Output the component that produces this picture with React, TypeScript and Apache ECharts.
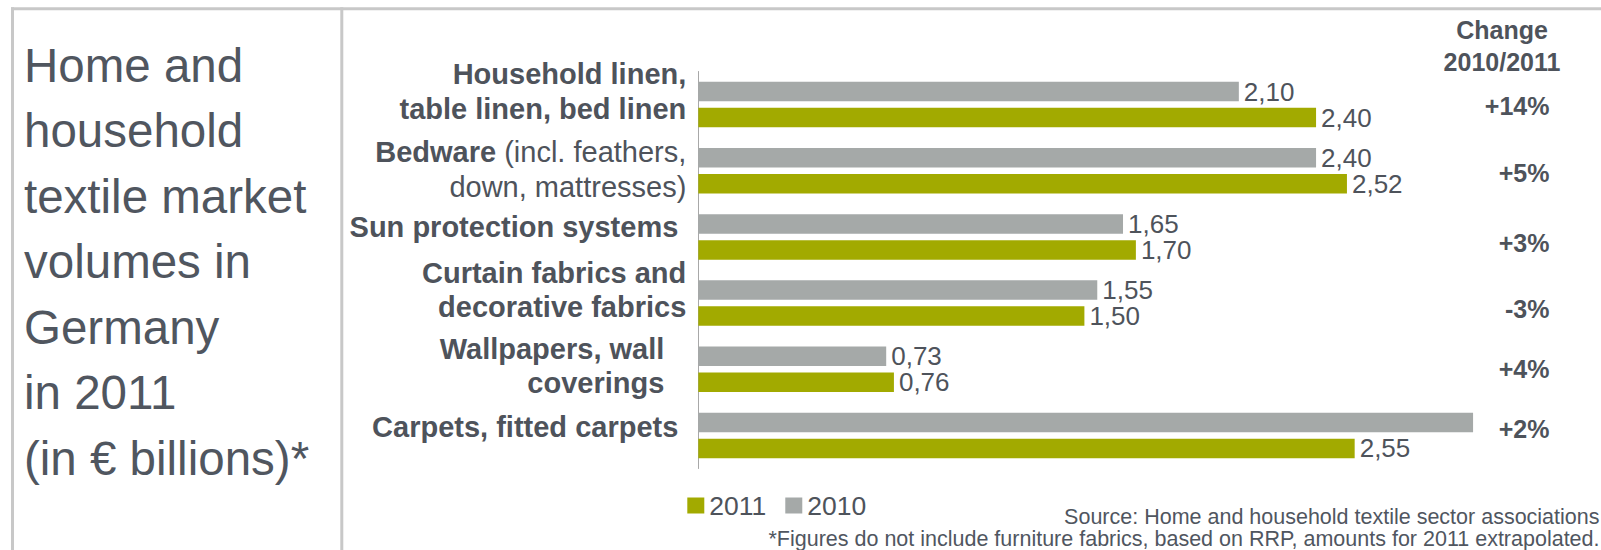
import React, { useEffect, useRef } from 'react';
import * as echarts from 'echarts';

// ---------- data ----------
const categories = [
  'Household linen,\ntable linen, bed linen',
  'Bedware (incl. feathers,\ndown, mattresses)',
  'Sun protection systems',
  'Curtain fabrics and\ndecorative fabrics',
  'Wallpapers, wall\ncoverings',
  'Carpets, fitted carpets',
];
const values2010 = [2.1, 2.4, 1.65, 1.55, 0.73, 3.01];
const values2011 = [2.4, 2.52, 1.7, 1.5, 0.76, 2.55];
const showLabel2010 = [true, true, true, true, true, false];
const changes = ['+14%', '+5%', '+3%', '-3%', '+4%', '+2%'];
const legendNames = ['2011', '2010'];
const changeHeader = ['Change', '2010/2011'];
const titleLines = [
  'Home and',
  'household',
  'textile market',
  'volumes in',
  'Germany',
  'in 2011',
  '(in \u20AC billions)*',
];
const sourceNote = 'Source: Home and household textile sector associations';
const footNote = '*Figures do not include furniture fabrics, based on RRP, amounts for 2011 extrapolated.';

// ---------- layout / style ----------
const TEXT = '#4e535b';
const GREEN = '#a2aa00';
const GREY = '#a5a9a8';
const BORDER = '#c8c8c8';
const labelPads = [
  [0, 0, 26, 0],
  [0, 0, 3, 0],
  [0, 8, 20, 0],
  [0, 0, 26, 0],
  [0, 22, 7, 0],
  [0, 8, 17, 0],
];
const changeY = [106, 173, 243, 308.6, 369, 428.6];

const fmt = (v: number) => v.toFixed(2).replace('.', ',');

export default function App() {
  const ref = useRef<HTMLDivElement>(null);
  useEffect(() => {
    if (!ref.current) return;
    const chart = echarts.init(ref.current, undefined, { renderer: 'svg' });
    const font = 'Liberation Sans, Arial, sans-serif';

    const graphics: any[] = [
      // frame
      { type: 'line', shape: { x1: 11, y1: 8.8, x2: 1601, y2: 8.8 }, style: { stroke: BORDER, lineWidth: 3 } },
      { type: 'line', shape: { x1: 12.5, y1: 7.3, x2: 12.5, y2: 550 }, style: { stroke: BORDER, lineWidth: 3 } },
      { type: 'line', shape: { x1: 341.8, y1: 7.3, x2: 341.8, y2: 550 }, style: { stroke: BORDER, lineWidth: 3 } },
      // title
      {
        type: 'text',
        x: 24,
        y: 32.5,
        style: {
          text: titleLines.join('\n'),
          fill: '#50565f',
          fontSize: 47.5,
          lineHeight: 65.5,
          fontFamily: font,
          align: 'left',
          verticalAlign: 'top',
        },
      },
      // change header
      {
        type: 'text',
        x: 1502,
        y: 46,
        style: {
          text: changeHeader.join('\n'),
          fill: TEXT,
          fontSize: 25,
          fontWeight: 'bold',
          lineHeight: 32.7,
          fontFamily: font,
          align: 'center',
          verticalAlign: 'middle',
        },
      },
      ...changes.map((c, i) => ({
        type: 'text',
        x: 1549.5,
        y: changeY[i],
        style: {
          text: c,
          fill: TEXT,
          fontSize: 25,
          fontWeight: 'bold',
          fontFamily: font,
          align: 'right',
          verticalAlign: 'middle',
        },
      })),
      {
        type: 'text',
        x: 1599.5,
        y: 516.5,
        style: { text: sourceNote, fill: '#50565f', fontSize: 21.5, fontFamily: font, align: 'right', verticalAlign: 'middle' },
      },
      {
        type: 'text',
        x: 1599.5,
        y: 538.5,
        style: { text: footNote, fill: '#50565f', fontSize: 21.5, fontFamily: font, align: 'right', verticalAlign: 'middle' },
      },
    ];

    const option: any = {
      animation: false,
      backgroundColor: '#ffffff',
      textStyle: { fontFamily: font },
      grid: { left: 698.3, top: 71.5, height: 397, width: 900.9, containLabel: false, outerBoundsMode: 'none' },
      legend: {
        data: legendNames,
        left: 687.3,
        top: 492,
        padding: 0,
        icon: 'rect',
        itemWidth: 17,
        itemHeight: 16,
        itemGap: 19,
        textStyle: { color: TEXT, fontSize: 26.5, lineHeight: 16, fontFamily: font },
      },
      xAxis: {
        type: 'value',
        min: 0,
        max: 3.5,
        show: false,
        splitLine: { show: false },
      },
      yAxis: {
        type: 'category',
        inverse: true,
        data: categories.map((c, i) => ({ value: c, textStyle: { padding: labelPads[i] } })),
        axisLine: { show: true, lineStyle: { color: '#a8a8a8', width: 1 } },
        axisTick: { show: false },
        splitLine: { show: false },
        axisLabel: {
          interval: 0,
          margin: 12,
          color: TEXT,
          fontSize: 29,
          fontWeight: 'bold',
          lineHeight: 34.5,
          fontFamily: font,
          align: 'right',
          formatter: (v: string) => {
            if (v.startsWith('Bedware')) {
              const [l1, l2] = v.split('\n');
              return `{b|Bedware}{n|${l1.slice('Bedware'.length)}}\n{n|${l2}}`;
            }
            return v;
          },
          rich: {
            b: { fontSize: 29, fontWeight: 'bold', color: TEXT, lineHeight: 34.5, fontFamily: font },
            n: { fontSize: 29, fontWeight: 'normal', color: TEXT, lineHeight: 34.5, fontFamily: font },
          },
        },
      },
      series: [
        {
          name: '2010',
          type: 'bar',
          barWidth: 19.5,
          barGap: '33%',
          itemStyle: { color: GREY },
          data: values2010.map((v, i) => ({ value: v, label: { show: showLabel2010[i] } })),
          label: {
            show: true,
            position: 'right',
            distance: 5,
            color: TEXT,
            fontSize: 26,
            fontFamily: font,
            formatter: (p: any) => fmt(p.value),
          },
        },
        {
          name: '2011',
          type: 'bar',
          barWidth: 19.5,
          barGap: '33%',
          itemStyle: { color: GREEN },
          data: values2011,
          label: {
            show: true,
            position: 'right',
            distance: 5,
            color: TEXT,
            fontSize: 26,
            fontFamily: font,
            formatter: (p: any) => fmt(p.value),
          },
        },
      ],
      graphic: graphics,
    };
    chart.setOption(option);
    return () => chart.dispose();
  }, []);

  return (
    <div
      ref={ref}
      style={{ position: 'fixed', left: 0, top: 0, width: 1601, height: 550, background: '#fff' }}
    />
  );
}
